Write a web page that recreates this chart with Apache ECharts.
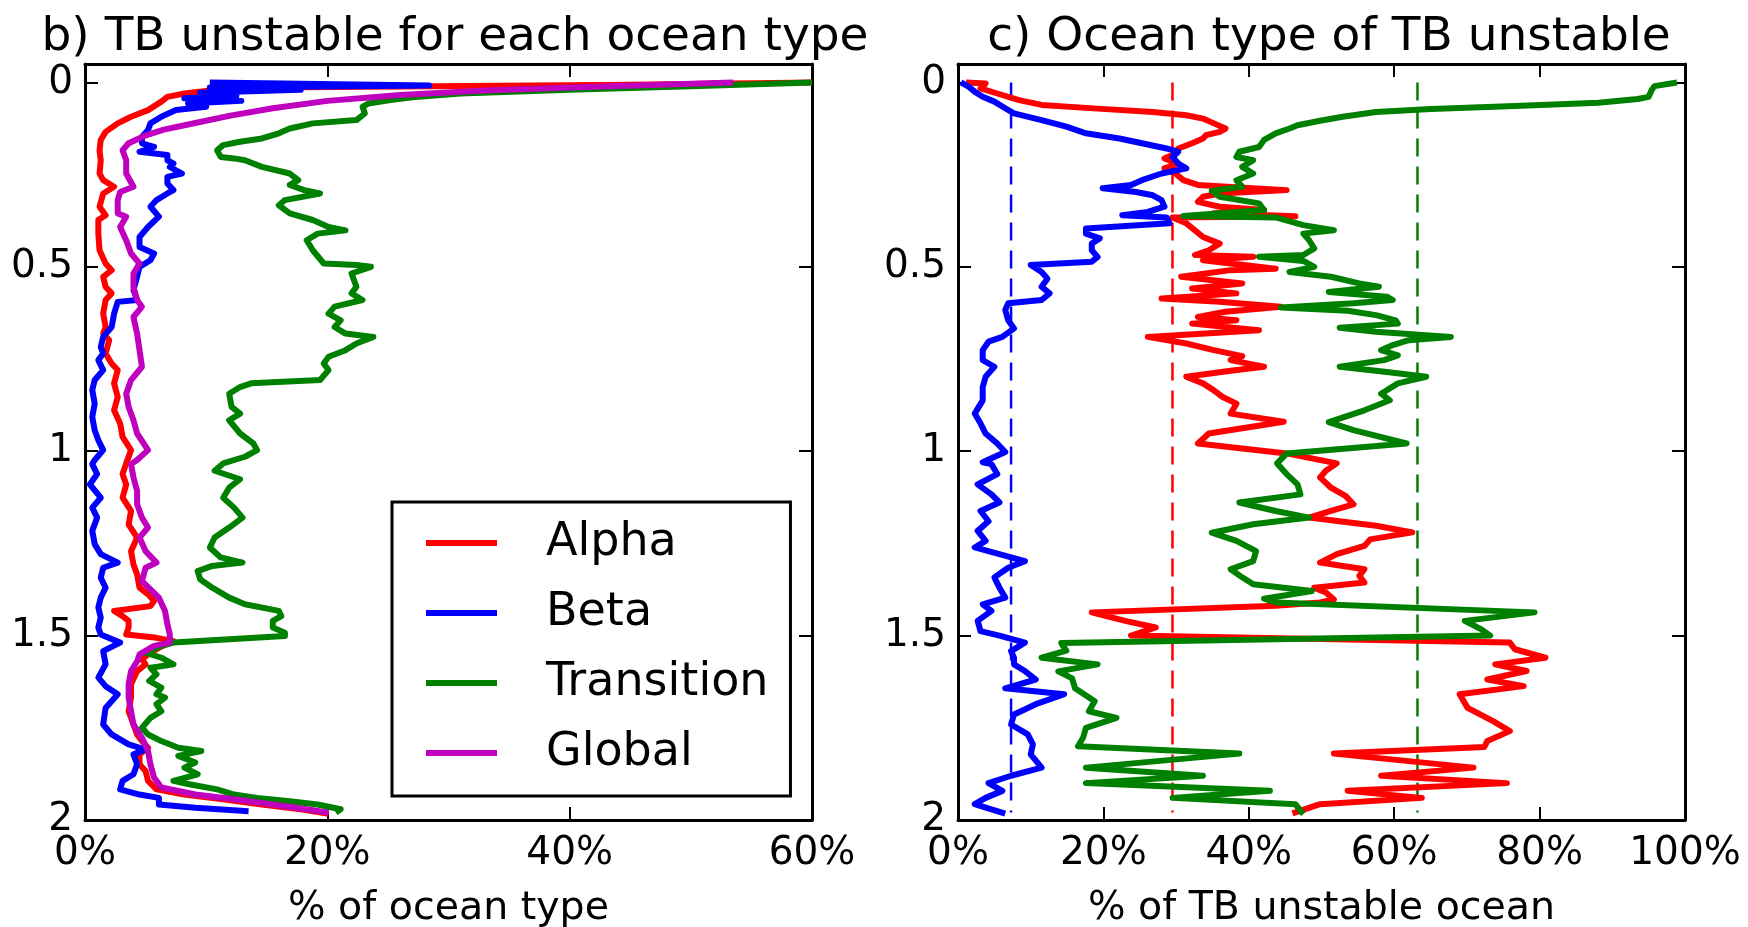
<!DOCTYPE html>
<html><head><meta charset="utf-8">
<script src="https://cdn.jsdelivr.net/npm/echarts@6/dist/echarts.min.js"></script>
<style>html,body{margin:0;padding:0;background:#fff}#c{width:1748px;height:927px}</style>
</head><body><div id="c"></div>
<script>
// ---- data: [depth, percent] ----
const depthTicks = [0, 0.5, 1, 1.5, 2];
const xMaxB = 60, xMaxC = 100;

// Panel b) % of ocean type
const alphaB = [[0,60],[0.006,45],[0.013,18],[0.023,10],[0.03,8.2],[0.039,6.8],[0.052,6.3],[0.075,5.2],[0.093,3.8],[0.111,2.7],[0.134,1.7],[0.156,1.3],[0.184,1.2],[0.211,1.3],[0.247,1.2],[0.265,1.5],[0.283,2.4],[0.301,1.5],[0.337,1.2],[0.36,1.7],[0.373,1.1],[0.41,1.1],[0.455,1.2],[0.491,1.7],[0.509,2.2],[0.527,1.5],[0.554,1.7],[0.572,2.2],[0.59,1.7],[0.627,1.5],[0.663,1.7],[0.681,1.5],[0.699,2.0],[0.735,1.7],[0.762,2.2],[0.78,2.7],[0.816,2.4],[0.853,2.7],[0.889,2.4],[0.925,2.9],[0.961,3.1],[0.997,3.8],[1.033,3.4],[1.062,3.1],[1.09,3.4],[1.126,3.1],[1.162,3.8],[1.199,3.6],[1.234,4.3],[1.271,3.8],[1.307,4.0],[1.334,4.3],[1.37,4.5],[1.388,5.2],[1.406,5.7],[1.42,5.4],[1.433,2.4],[1.447,3.1],[1.46,3.6],[1.478,3.6],[1.497,3.4],[1.506,5.9],[1.515,7.3],[1.528,6.4],[1.546,5.4],[1.564,4.7],[1.578,5.0],[1.596,4.3],[1.632,3.8],[1.668,3.8],[1.705,3.6],[1.741,4.0],[1.768,4.3],[1.786,4.7],[1.804,5.2],[1.822,4.5],[1.849,4.5],[1.867,5.0],[1.894,5.2],[1.917,5.9],[1.931,8.2],[1.944,11.4],[1.958,14.6],[1.971,17.8],[1.983,20.1]];
const betaB = [[0,10.3],[0.008,28.4],[0.014,10.3],[0.02,17.8],[0.028,9.5],[0.036,12.5],[0.043,8.2],[0.05,12.9],[0.057,8.5],[0.066,10.0],[0.075,7.5],[0.093,6.3],[0.111,5.4],[0.129,5.2],[0.147,4.7],[0.165,4.7],[0.175,5.7],[0.188,4.5],[0.197,6.8],[0.211,6.8],[0.22,7.3],[0.229,7.0],[0.247,8.0],[0.256,6.8],[0.274,6.8],[0.292,7.3],[0.301,6.8],[0.319,5.9],[0.337,5.4],[0.364,6.1],[0.392,5.2],[0.419,4.5],[0.446,4.5],[0.464,5.7],[0.482,5.4],[0.5,4.5],[0.527,4.3],[0.563,4.0],[0.59,4.3],[0.595,2.7],[0.627,2.4],[0.663,2.2],[0.69,1.5],[0.717,1.3],[0.735,1.5],[0.753,1.1],[0.78,1.5],[0.807,0.8],[0.834,0.6],[0.871,0.8],[0.907,0.6],[0.943,0.8],[0.97,1.1],[0.997,1.5],[1.024,0.8],[1.035,0.6],[1.062,1.0],[1.09,0.4],[1.126,1.3],[1.153,0.6],[1.18,1.0],[1.216,0.6],[1.252,0.8],[1.279,1.3],[1.302,2.7],[1.316,1.5],[1.343,1.3],[1.37,1.7],[1.397,1.3],[1.424,1.1],[1.451,1.3],[1.478,1.1],[1.497,1.3],[1.519,2.9],[1.542,1.5],[1.578,1.7],[1.614,1.1],[1.637,1.7],[1.659,2.7],[1.696,1.7],[1.741,1.5],[1.768,2.2],[1.795,3.6],[1.809,5.0],[1.822,4.0],[1.849,4.3],[1.876,4.0],[1.894,3.1],[1.917,2.9],[1.931,4.5],[1.94,6.1],[1.958,6.1],[1.967,9.1],[1.976,13.5]];
const transB = [[0,60],[0.01,50],[0.02,40],[0.03,31],[0.04,27],[0.048,25.2],[0.057,23.4],[0.066,22.9],[0.084,23.1],[0.102,22.4],[0.111,18.8],[0.125,16.9],[0.138,16.0],[0.152,14.6],[0.161,12.8],[0.17,11.4],[0.184,10.9],[0.202,11.2],[0.206,12.3],[0.211,13.2],[0.229,14.6],[0.247,16.9],[0.265,17.6],[0.278,16.9],[0.292,18.1],[0.301,19.4],[0.319,16.5],[0.333,16.0],[0.355,16.9],[0.373,18.8],[0.392,20.1],[0.401,21.5],[0.41,19.2],[0.428,18.3],[0.455,18.8],[0.491,19.7],[0.495,22.4],[0.5,23.6],[0.518,22.0],[0.554,22.4],[0.572,22.0],[0.59,22.9],[0.608,20.6],[0.627,20.1],[0.645,21.1],[0.663,20.6],[0.681,21.5],[0.69,23.8],[0.708,22.4],[0.726,21.5],[0.744,20.1],[0.762,19.7],[0.78,20.1],[0.807,19.4],[0.816,13.7],[0.826,12.8],[0.844,11.9],[0.88,12.1],[0.898,12.8],[0.916,11.9],[0.952,12.8],[0.979,13.9],[0.997,14.2],[1.015,13.2],[1.033,11.4],[1.053,10.7],[1.076,12.8],[1.099,11.9],[1.126,11.4],[1.153,12.3],[1.18,13.0],[1.207,11.9],[1.234,10.7],[1.261,10.3],[1.288,11.2],[1.302,13.0],[1.311,10.5],[1.325,9.3],[1.347,9.5],[1.37,10.5],[1.397,11.9],[1.415,13.2],[1.433,16.0],[1.447,16.2],[1.46,15.5],[1.478,15.5],[1.492,16.5],[1.501,16.5],[1.519,7.3],[1.528,6.3],[1.546,5.0],[1.56,6.3],[1.578,7.3],[1.587,5.4],[1.605,5.9],[1.623,5.3],[1.641,6.3],[1.659,5.9],[1.668,6.6],[1.686,5.9],[1.705,6.3],[1.723,5.4],[1.75,4.7],[1.768,5.2],[1.786,6.3],[1.804,7.7],[1.813,9.6],[1.826,7.7],[1.844,9.1],[1.858,8.2],[1.876,9.3],[1.894,7.3],[1.903,8.6],[1.917,10.9],[1.931,12.3],[1.94,14.2],[1.949,16.9],[1.958,19.2],[1.971,21.1],[1.98,20.7]];
const globalB = [[0,53.5],[0.012,42],[0.022,33],[0.034,26],[0.05,20],[0.07,15.5],[0.09,12],[0.11,9.1],[0.128,6.5],[0.145,4.9],[0.165,3.6],[0.184,3.1],[0.211,3.4],[0.247,3.4],[0.283,4.0],[0.297,2.9],[0.319,2.7],[0.355,2.7],[0.364,3.4],[0.392,2.9],[0.428,3.4],[0.464,3.8],[0.491,4.5],[0.518,4.0],[0.554,4.0],[0.59,4.3],[0.608,4.7],[0.636,4.0],[0.681,4.3],[0.726,4.5],[0.771,4.7],[0.807,3.8],[0.844,3.4],[0.88,3.6],[0.916,4.0],[0.952,4.3],[0.997,5.2],[1.024,4.3],[1.035,3.8],[1.071,4.0],[1.108,4.3],[1.144,4.3],[1.18,4.7],[1.207,5.2],[1.234,4.5],[1.271,5.0],[1.302,5.9],[1.316,5.0],[1.352,4.7],[1.397,6.1],[1.433,6.6],[1.469,6.8],[1.497,7.0],[1.519,7.0],[1.528,5.7],[1.551,4.5],[1.57,4.3],[1.596,3.8],[1.632,3.6],[1.668,3.6],[1.705,3.8],[1.741,4.0],[1.777,4.7],[1.813,5.2],[1.849,5.4],[1.885,5.7],[1.912,6.3],[1.931,9.1],[1.944,12.3],[1.958,15.5],[1.971,18.3],[1.98,20.1]];

// Panel c) % of TB unstable ocean
const alphaC = [[0,1.1],[0.003,3.8],[0.016,3.1],[0.03,5.4],[0.048,8.4],[0.061,11.5],[0.071,19.2],[0.08,26.8],[0.089,31.4],[0.098,33.7],[0.111,35.2],[0.125,36.8],[0.134,36],[0.143,34.1],[0.152,33.7],[0.165,32.2],[0.179,30.3],[0.193,29.9],[0.206,28.4],[0.22,30.3],[0.233,28.4],[0.247,29.9],[0.265,31],[0.278,33],[0.292,45.2],[0.301,36],[0.31,33.7],[0.324,33],[0.337,36],[0.346,42.1],[0.355,35.2],[0.363,46.4],[0.366,29.5],[0.382,31.4],[0.401,32.6],[0.419,33.7],[0.437,36],[0.455,34.5],[0.468,32.6],[0.473,40.6],[0.482,33.7],[0.505,43.7],[0.509,37.5],[0.527,30.7],[0.545,39.1],[0.559,32.2],[0.572,38.3],[0.586,28],[0.595,36],[0.608,44.4],[0.622,36.8],[0.636,33],[0.645,38.3],[0.654,32.2],[0.672,41.4],[0.69,26.1],[0.708,31.4],[0.726,35.2],[0.742,39.1],[0.753,37.5],[0.771,42.1],[0.782,37.5],[0.798,31.4],[0.816,33.7],[0.835,35.2],[0.853,36.4],[0.871,38.3],[0.898,37.5],[0.92,44.8],[0.952,34.5],[0.979,33],[1.006,45.2],[1.033,52.1],[1.053,50.6],[1.071,49.8],[1.099,51.3],[1.121,53.3],[1.144,54.4],[1.162,51.3],[1.18,48.3],[1.202,57.5],[1.22,62.5],[1.239,56.7],[1.257,55.9],[1.279,52.1],[1.302,49.8],[1.32,55.9],[1.338,55.2],[1.356,55.9],[1.37,49.0],[1.383,50.6],[1.402,51.7],[1.41,49.8],[1.419,43.7],[1.437,18.4],[1.46,23.0],[1.478,27.2],[1.5,23.8],[1.519,75.9],[1.537,76.6],[1.56,80.8],[1.578,73.9],[1.596,78.2],[1.619,72.8],[1.637,77.8],[1.659,69.0],[1.696,70.1],[1.732,73.6],[1.759,75.9],[1.786,72.8],[1.802,72.4],[1.82,51.7],[1.858,70.9],[1.88,58.2],[1.9,75.5],[1.921,53.6],[1.94,63.8],[1.957,49.8],[1.982,46.0]];
const betaC = [[0,0.4],[0.012,1.5],[0.025,2.3],[0.039,3.4],[0.052,5.0],[0.07,6.5],[0.084,7.7],[0.102,11.5],[0.12,14.9],[0.138,17.6],[0.152,22.2],[0.165,25.3],[0.179,28.7],[0.188,30.3],[0.202,29.5],[0.22,30.3],[0.233,31.4],[0.247,28.0],[0.265,25.3],[0.278,23.8],[0.287,19.9],[0.297,24.5],[0.306,26.8],[0.319,28.0],[0.337,28.4],[0.351,26.1],[0.36,22.6],[0.366,28.7],[0.382,29.1],[0.396,17.6],[0.41,17.6],[0.423,19.5],[0.437,18.4],[0.455,18.4],[0.473,19.2],[0.486,18.4],[0.495,10.0],[0.514,11.5],[0.532,12.3],[0.554,11.5],[0.572,12.6],[0.59,11.5],[0.599,6.9],[0.617,6.5],[0.645,6.9],[0.667,7.7],[0.69,6.1],[0.703,4.2],[0.726,3.4],[0.753,3.4],[0.771,5.0],[0.798,3.8],[0.826,3.4],[0.862,3.4],[0.898,2.3],[0.925,3.1],[0.952,3.8],[0.979,5.4],[1.002,6.5],[1.03,3.4],[1.035,4.6],[1.062,5.4],[1.09,2.7],[1.117,4.6],[1.139,5.7],[1.162,3.1],[1.19,4.2],[1.216,2.7],[1.243,3.8],[1.261,2.3],[1.298,9.2],[1.316,6.9],[1.342,5.0],[1.37,5.7],[1.397,6.5],[1.415,3.4],[1.433,4.6],[1.46,2.7],[1.488,3.1],[1.5,5.7],[1.519,9.2],[1.542,7.3],[1.56,7.7],[1.578,7.7],[1.596,9.2],[1.619,10.7],[1.643,6.5],[1.659,14.6],[1.686,10.7],[1.714,7.7],[1.741,7.3],[1.768,9.6],[1.795,10.3],[1.822,10.0],[1.858,11.5],[1.88,7.3],[1.9,4.2],[1.921,6.1],[1.94,3.8],[1.957,2.3],[1.971,4.6],[1.983,6.5]];
const transC = [[0,98.9],[0.01,95.8],[0.021,95.4],[0.039,95],[0.045,93.5],[0.055,88.1],[0.064,76.6],[0.072,65.1],[0.08,57.5],[0.093,52.9],[0.104,49.8],[0.116,46.7],[0.125,45.6],[0.138,43.7],[0.156,42.1],[0.175,41.4],[0.188,38.7],[0.202,38.3],[0.211,40.6],[0.229,39.1],[0.247,40.6],[0.265,38.3],[0.283,39.1],[0.294,34.9],[0.31,36],[0.328,41.4],[0.346,42.1],[0.362,31],[0.366,43.7],[0.387,47.5],[0.401,51.7],[0.41,47.5],[0.428,48.3],[0.45,49],[0.468,47.5],[0.473,41.4],[0.484,47.5],[0.5,49],[0.514,45.6],[0.527,51.3],[0.545,55.2],[0.554,57.9],[0.568,51],[0.581,59],[0.59,59.8],[0.599,54.4],[0.61,44.4],[0.619,53.6],[0.631,57.5],[0.645,60.2],[0.654,60.5],[0.665,52.5],[0.676,57.5],[0.69,67.8],[0.699,62],[0.712,59.8],[0.726,58.2],[0.74,60.5],[0.753,58.6],[0.771,52.5],[0.785,59],[0.798,64.4],[0.816,60.5],[0.844,58.2],[0.862,59.4],[0.889,55.9],[0.921,51],[0.943,54.4],[0.979,61.7],[1.006,45.2],[1.033,43.9],[1.062,45.2],[1.09,46.7],[1.117,47.1],[1.139,38.7],[1.162,43.7],[1.18,48.3],[1.198,40.6],[1.221,34.9],[1.243,38.3],[1.271,41.0],[1.298,40.6],[1.32,37.5],[1.342,39.1],[1.361,40.6],[1.379,48.7],[1.4,42.1],[1.41,43.7],[1.437,79.3],[1.46,69.7],[1.483,72.0],[1.5,73.2],[1.52,14.2],[1.541,14.9],[1.56,11.5],[1.578,19.2],[1.597,13.8],[1.616,15.7],[1.643,16.1],[1.678,18.8],[1.705,18.0],[1.723,21.8],[1.75,17.6],[1.777,17.2],[1.8,16.5],[1.82,38.7],[1.858,17.6],[1.88,33.7],[1.9,17.6],[1.921,42.9],[1.94,29.5],[1.957,46.4],[1.984,47.5]];

// mean shares (dashed reference lines) in panel c
const meanAlphaC = 29.5, meanBetaC = 7.3, meanTransC = 63.2;
const meanDepthSpan = [0, 1.98];

// ---- chart ----
const FONT = 'DejaVu Sans';
const RED = '#ff0000', BLUE = '#0000ff', GREEN = '#008000', MAG = '#bf00bf';
const LW = 6;

function xAxis(grid, max, pos, show, name) {
  return {
    type: 'value', gridIndex: grid, min: 0, max: max, interval: 20, position: pos,
    axisLine: {show: true, onZero: false, lineStyle: {color: '#000', width: 3}},
    axisTick: {show: true, inside: true, length: 13, lineStyle: {color: '#000', width: 2}},
    axisLabel: {show: show, formatter: v => v + '%', fontSize: 39, color: '#000', margin: 14, fontFamily: FONT},
    splitLine: {show: false},
    name: show ? name : '', nameLocation: 'middle', nameGap: 69,
    nameTextStyle: {fontSize: 39.5, color: '#000', fontFamily: FONT}
  };
}
function yAxis(grid, pos, show) {
  return {
    type: 'value', gridIndex: grid, min: -0.05, max: 2, inverse: true, position: pos,
    axisLine: {show: true, onZero: false, lineStyle: {color: '#000', width: 3}},
    axisTick: {show: true, inside: true, length: 13, customValues: depthTicks, lineStyle: {color: '#000', width: 2}},
    axisLabel: {show: show, customValues: depthTicks, formatter: v => String(v), align: 'right',
      fontSize: 39, color: '#000', margin: 12, fontFamily: FONT},
    splitLine: {show: false}
  };
}
function toXY(arr) { return arr.map(p => [p[1], p[0]]); }
function line(name, arr, color, xi, yi, z) {
  return {
    name: name, type: 'line', xAxisIndex: xi, yAxisIndex: yi, data: toXY(arr),
    showSymbol: false, symbol: 'none', smooth: false, z: z,
    lineStyle: {color: color, width: LW, join: 'round'}, itemStyle: {color: color},
    emphasis: {disabled: true}
  };
}
function dashed(name, x, color) {
  return {
    name: name, type: 'line', xAxisIndex: 2, yAxisIndex: 2,
    data: meanDepthSpan.map(d => [x, d]), showSymbol: false, symbol: 'none', z: 1,
    lineStyle: {color: color, width: 2.5, type: [18, 10]}, itemStyle: {color: color},
    emphasis: {disabled: true}
  };
}

const chart = echarts.init(document.getElementById('c'), null, {renderer: 'canvas'});
chart.setOption({
  animation: false,
  backgroundColor: '#fff',
  title: [
    {text: 'b) TB unstable for each ocean type', left: 450, top: 9, textAlign: 'center',
     textStyle: {fontSize: 47, fontWeight: 'normal', color: '#000', fontFamily: FONT}},
    {text: 'c) Ocean type of TB unstable', left: 1324, top: 9, textAlign: 'center',
     textStyle: {fontSize: 47, fontWeight: 'normal', color: '#000', fontFamily: FONT}}
  ],
  legend: {
    data: ['Alpha', 'Beta', 'Transition', 'Global'],
    orient: 'vertical', left: 392, top: 502,
    backgroundColor: '#fff', borderColor: '#000', borderWidth: 3, borderRadius: 0,
    padding: [16, 22, 18, 34], itemWidth: 71, itemHeight: 6, itemGap: 20, icon: 'rect',
    selectedMode: false,
    textStyle: {fontSize: 46, color: '#000', fontFamily: FONT, lineHeight: 50, padding: [0, 0, 0, 44]}
  },
  grid: [
    {left: 85, top: 64, width: 727, height: 756, outerBoundsMode: 'none', containLabel: false},
    {left: 958, top: 64, width: 727, height: 756, outerBoundsMode: 'none', containLabel: false}
  ],
  xAxis: [
    xAxis(0, xMaxB, 'bottom', true, '% of ocean type'),
    xAxis(0, xMaxB, 'top', false, ''),
    xAxis(1, xMaxC, 'bottom', true, '% of TB unstable ocean'),
    xAxis(1, xMaxC, 'top', false, '')
  ],
  yAxis: [
    yAxis(0, 'left', true), yAxis(0, 'right', false),
    yAxis(1, 'left', true), yAxis(1, 'right', false)
  ],
  series: [
    line('Alpha', alphaB, RED, 0, 0, 2),
    line('Beta', betaB, BLUE, 0, 0, 3),
    line('Transition', transB, GREEN, 0, 0, 4),
    line('Global', globalB, MAG, 0, 0, 5),
    dashed('mean Beta', meanBetaC, BLUE),
    dashed('mean Alpha', meanAlphaC, RED),
    dashed('mean Transition', meanTransC, GREEN),
    line('Alpha (c)', alphaC, RED, 2, 2, 2),
    line('Beta (c)', betaC, BLUE, 2, 2, 3),
    line('Transition (c)', transC, GREEN, 2, 2, 4)
  ]
});
</script>
</body></html>
